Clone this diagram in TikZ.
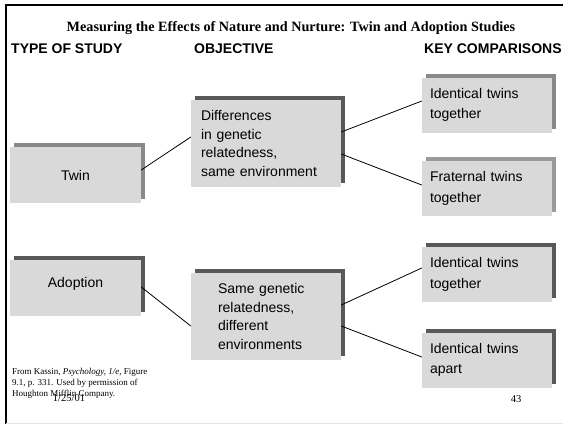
\documentclass[tikz,border=0pt]{standalone}
\usepackage{fontspec}
\setmainfont{Liberation Serif}
\newfontfamily\arialf{Liberation Sans}
\usetikzlibrary{shadows,calc}
\definecolor{boxfill}{HTML}{D9D9D9}
\definecolor{shlight}{HTML}{898989}
\definecolor{shmid}{HTML}{9A9A9A}
\definecolor{shdark}{HTML}{595959}
\tikzset{
  studybox/.style={fill=boxfill, draw=none, inner sep=0pt,
    font=\arialf\fontsize{14}{18.5}\selectfont,
    drop shadow={shadow xshift=4pt, shadow yshift=4pt, fill=#1, opacity=1}},
  header/.style={font=\arialf\bfseries\fontsize{14}{16}\selectfont, anchor=west, inner sep=0pt},
  link/.style={draw=black, line width=0.8pt},
  smalltxt/.style={inner sep=0pt}
}
\begin{document}
\begin{tikzpicture}[x=1pt,y=-1pt]
\useasboundingbox (0,0) rectangle (563,424);
\fill[white] (0,0) rectangle (563,424);
% frame
\draw[line width=2.2pt] (6,424) -- (6,5) -- (563,5);
\draw[gray!20, line width=0.8pt] (6,423.5) -- (563,423.5);
% title and headers
\node[smalltxt, font=\bfseries\fontsize{14.2}{16}\selectfont] (title) at (291,28) {Measuring the Effects of Nature and Nurture: Twin and Adoption Studies};
\node[header] (h1) at (11,49) {TYPE OF STUDY};
\node[header] (h2) at (194,49) {OBJECTIVE};
\node[header] (h3) at (424,49) {KEY COMPARISONS};
% left boxes
\node[studybox=shlight, minimum width=131pt, minimum height=56pt] (twin) at (75.5,175) {Twin};
\node[studybox=shdark, minimum width=131pt, minimum height=56pt, text depth=10.9pt] (adop) at (75.5,288) {Adoption};
% middle boxes
\node[studybox=shdark, minimum width=150pt, minimum height=87pt, text width=130pt, align=left] (diff) at (266,143.5) {Differences\\in genetic\\relatedness,\\same environment};
\node[studybox=shdark, minimum width=150pt, minimum height=87pt, text width=96pt, align=left] (same) at (266,316.5) {Same genetic\\relatedness,\\different\\environments};
% right boxes
\tikzset{rbox/.style={studybox=#1, minimum width=130pt, minimum height=55pt, text width=114pt, align=left, font=\arialf\fontsize{14}{20.5}\selectfont}}
\node[rbox=shlight] (it1) at (487,105) {Identical twins\\together};
\node[rbox=shmid] (fr) at (487,188.5) {Fraternal twins\\together};
\node[rbox=shdark] (it2) at (487,274.5) {Identical twins\\together};
\node[rbox=shdark] (ia) at (487,360) {Identical twins\\apart};
% connectors
\draw[link] ($(twin.east)+(0,-5)$) -- ($(diff.west)+(0,-6.5)$);
\draw[link] ($(adop.east)+(0,-1)$) -- ($(same.west)+(0,9.5)$);
\draw[link] ($(diff.east)+(0,-11.5)$) -- ($(it1.west)+(0,-4)$);
\draw[link] ($(diff.east)+(0,10.5)$) -- ($(fr.west)+(0,-3.5)$);
\draw[link] ($(same.east)+(0,-11.5)$) -- ($(it2.west)+(0,-6.5)$);
\draw[link] ($(same.east)+(0,9.5)$) -- ($(ia.west)+(0,-3)$);
% footnote
\node[smalltxt, anchor=north west, align=left, font=\fontsize{9}{11}\selectfont] (foot) at (12,368.5) {From Kassin, \textit{Psychology, 1/e,} Figure\\9.1, p. 331. Used by permission of\\Houghton Mifflin Company.};
\node[smalltxt, font=\fontsize{10.5}{12}\selectfont] (date) at (69,398) {1/25/01};
\node[smalltxt, font=\fontsize{10.5}{12}\selectfont] (page) at (516,399) {43};
\end{tikzpicture}
\end{document}
